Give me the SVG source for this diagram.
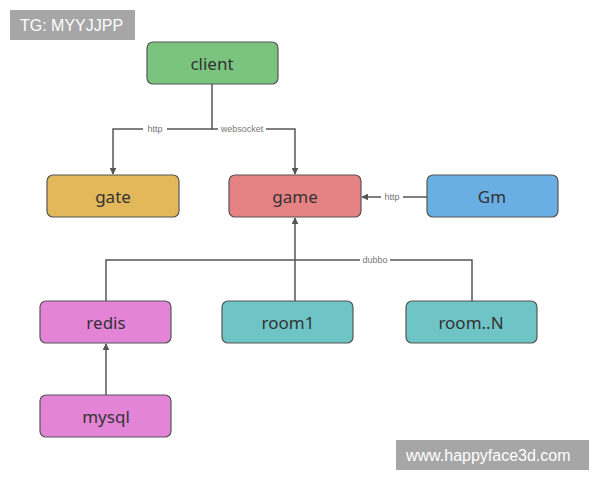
<svg xmlns="http://www.w3.org/2000/svg" width="600" height="480" viewBox="0 0 600 480">
<style>
.n{stroke:#555;stroke-width:1.2}
.t{font-family:"Noto Sans","Open Sans",sans-serif;font-size:17px;fill:#333;text-anchor:middle;dominant-baseline:central}
.c{fill:none;stroke:#555;stroke-width:1.5}
.l{font-family:"Liberation Sans",sans-serif;font-size:9px;fill:#777;text-anchor:middle;dominant-baseline:central}
.lb{fill:#fff}
.w{font-family:"Liberation Sans",sans-serif;font-size:16px;fill:#fff}
</style>
<defs><marker id="a" viewBox="0 0 10 10" refX="9" refY="5" markerWidth="7" markerHeight="7" markerUnits="userSpaceOnUse" orient="auto"><path d="M0,0L10,5L0,10z" fill="#555"/></marker></defs>
<rect width="600" height="480" fill="#fff"/>
<g id="connectors">
<path class="c" d="M212,84V129H113V174" marker-end="url(#a)"/>
<path class="c" d="M212,129H295V174" marker-end="url(#a)"/>
<path class="c" d="M427,197H362" marker-end="url(#a)"/>
<path class="c" d="M295,301V218" marker-end="url(#a)"/>
<path class="c" d="M106,301V260H472V301"/>
<path class="c" d="M106,395V344" marker-end="url(#a)"/>
<rect class="lb" x="143" y="124" width="24" height="10"/><text class="l" x="155" y="129">http</text>
<rect class="lb" x="218" y="124" width="48" height="10"/><text class="l" x="242" y="129">websocket</text>
<rect class="lb" x="381" y="192" width="22" height="10"/><text class="l" x="392" y="197">http</text>
<rect class="lb" x="360" y="255" width="30" height="10"/><text class="l" x="375" y="260">dubbo</text>
</g>
<g id="client"><rect class="n" x="147" y="42" width="131" height="42" rx="6" fill="#7ac47f"/><text class="t" x="212" y="63">client</text></g>
<g id="gate"><rect class="n" x="47" y="175" width="132" height="42" rx="6" fill="#e2b85a"/><text class="t" x="113" y="196">gate</text></g>
<g id="game"><rect class="n" x="229" y="175" width="132" height="42" rx="6" fill="#e58283"/><text class="t" x="295" y="196">game</text></g>
<g id="gm"><rect class="n" x="427" y="175" width="131" height="42" rx="6" fill="#6aafe3"/><text class="t" x="492" y="196">Gm</text></g>
<g id="redis"><rect class="n" x="40" y="301" width="131" height="42" rx="6" fill="#e384d6"/><text class="t" x="106" y="322">redis</text></g>
<g id="room1"><rect class="n" x="222" y="301" width="131" height="42" rx="6" fill="#6fc5c6"/><text class="t" x="288" y="322">room1</text></g>
<g id="roomN"><rect class="n" x="406" y="301" width="131" height="42" rx="6" fill="#6fc5c6"/><text class="t" x="471" y="322">room..N</text></g>
<g id="mysql"><rect class="n" x="40" y="395" width="131" height="42" rx="6" fill="#e384d6"/><text class="t" x="106" y="416">mysql</text></g>
<rect x="10" y="10" width="125" height="30" fill="#a6a6a6"/><text class="w" x="20" y="31">TG: MYYJJPP</text>
<rect x="396" y="440" width="193" height="30" fill="#a6a6a6"/><text class="w" x="406" y="461">www.happyface3d.com</text>
</svg>
